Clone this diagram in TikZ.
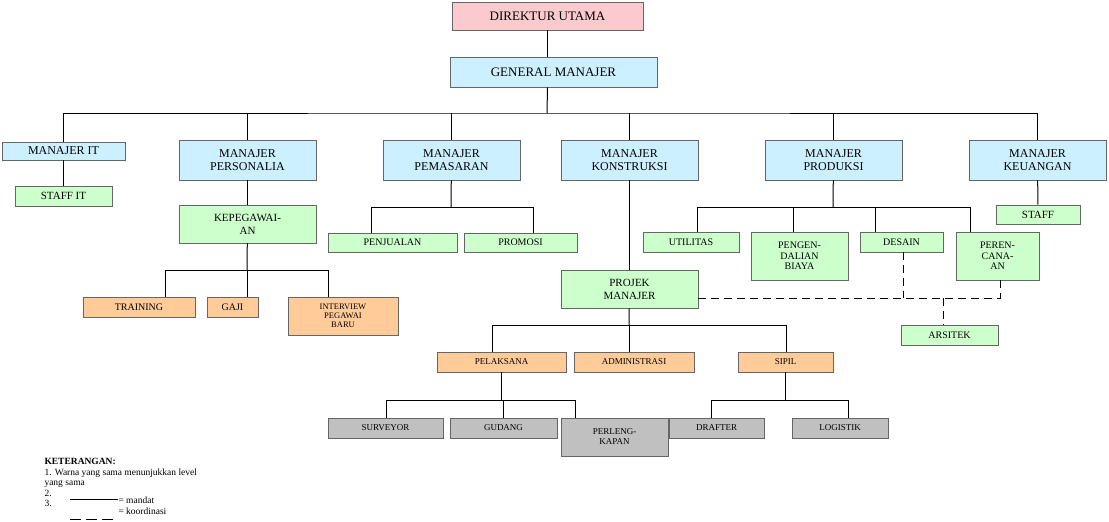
\documentclass[tikz,border=0pt]{standalone}
\usepackage{fontspec}
\setmainfont{Liberation Serif}
\definecolor{pinkbox}{HTML}{FBCACE}
\definecolor{bluebox}{HTML}{CCF0FF}
\definecolor{greenbox}{HTML}{CCFFCC}
\definecolor{orangebox}{HTML}{FFCC99}
\definecolor{greybox}{HTML}{C0C0C0}
\begin{document}
\begin{tikzpicture}[x = 1pt, y = -1pt, line width = 1pt,
                    box/.style = {draw = black!60, line width = 0.8pt, inner sep = 0pt, align = center,
                                  font = \fontsize{10}{10.5}\selectfont},
                    top/.style = {box, font = \fontsize{13}{14}\selectfont},
                    mgr/.style = {box, fill = bluebox, minimum width = 137pt, minimum height = 40pt,
                                  font = \fontsize{12}{13}\selectfont},
                    lvlg/.style = {box, fill = greenbox},
                    lvlo/.style = {box, fill = orangebox},
                    lvlr/.style = {box, fill = greybox},
                    koord/.style = {dashed, dash pattern = on 8pt off 5pt}]
  \useasboundingbox (0, 0) rectangle (1109, 522);
  \node [top, fill = pinkbox, minimum width = 191pt, minimum height = 28pt] (DU) at (547.5, 16) {DIREKTUR UTAMA};
  \node [top, fill = bluebox, minimum width = 207pt, minimum height = 30pt] (GM) at (553.5, 72) {GENERAL MANAJER};
  \node [mgr, minimum width = 123pt, minimum height = 18pt] (MIT) at (63.5, 151) {MANAJER IT};
  \node [mgr] (MPER) at (247.5, 160) {MANAJER\\PERSONALIA};
  \node [mgr] (MPEM) at (451.5, 160) {MANAJER\\PEMASARAN};
  \node [mgr] (MKON) at (629.5, 160) {MANAJER\\KONSTRUKSI};
  \node [mgr] (MPRO) at (833.5, 160) {MANAJER\\PRODUKSI};
  \node [mgr] (MKEU) at (1037.5, 160) {MANAJER\\KEUANGAN};
  \node [lvlg, minimum width = 97pt, minimum height = 20pt, font = \fontsize{11}{12}\selectfont] (SIT) at (63.5, 196) {STAFF IT};
  \node [lvlg, minimum width = 137pt, minimum height = 38pt, font = \fontsize{11}{13}\selectfont] (KEP) at (247.5, 224) {KEPEGAWAI-\\AN};
  \node [lvlg, minimum width = 129pt, minimum height = 19pt] (JUAL) at (392.5, 242.5) {PENJUALAN};
  \node [lvlg, minimum width = 113pt, minimum height = 19pt] (PROM) at (520.5, 242.5) {PROMOSI};
  \node [lvlg, minimum width = 96pt, minimum height = 20pt] (UTIL) at (691, 242) {UTILITAS};
  \node [lvlg, minimum width = 97pt, minimum height = 48pt] (BIAYA) at (799.5, 256) {PENGEN-\\DALIAN\\BIAYA};
  \node [lvlg, minimum width = 83pt, minimum height = 20pt] (DES) at (901.5, 242) {DESAIN};
  \node [lvlg, minimum width = 83pt, minimum height = 48pt] (RENC) at (997.5, 256) {PEREN-\\CANA-\\AN};
  \node [lvlg, minimum width = 84pt, minimum height = 19pt, font = \fontsize{11}{12}\selectfont] (STF) at (1038, 214.5) {STAFF};
  \node [lvlg, minimum width = 137pt, minimum height = 38pt, font = \fontsize{11}{13}\selectfont] (PM) at (629.5, 289) {PROJEK\\MANAJER};
  \node [lvlg, minimum width = 97pt, minimum height = 20pt] (ARS) at (949.5, 335) {ARSITEK};
  \node [lvlo, minimum width = 112pt, minimum height = 20pt] (TRN) at (139, 307) {TRAINING};
  \node [lvlo, minimum width = 51pt, minimum height = 20pt] (GAJI) at (232.5, 307) {GAJI};
  \node [lvlo, minimum width = 110pt, minimum height = 38pt, font = \fontsize{8.5}{9}\selectfont] (INT) at (343, 316) {INTERVIEW\\PEGAWAI\\BARU};
  \node [lvlo, minimum width = 129pt, minimum height = 20pt, font = \fontsize{9}{10}\selectfont] (PEL) at (501.5, 362) {PELAKSANA};
  \node [lvlo, minimum width = 120pt, minimum height = 20pt, font = \fontsize{9}{10}\selectfont] (ADM) at (634, 362) {ADMINISTRASI};
  \node [lvlo, minimum width = 95pt, minimum height = 20pt, font = \fontsize{9}{10}\selectfont] (SIP) at (785.5, 362) {SIPIL};
  \node [lvlr, minimum width = 115pt, minimum height = 20pt, font = \fontsize{9}{10}\selectfont] (SURV) at (385.5, 428) {SURVEYOR};
  \node [lvlr, minimum width = 107pt, minimum height = 20pt, font = \fontsize{9}{10}\selectfont] (GUD) at (503.5, 428) {GUDANG};
  \node [lvlr, minimum width = 107pt, minimum height = 38pt, font = \fontsize{9}{10}\selectfont] (PERL) at (614.5, 437) {PERLENG-\\KAPAN};
  \node [lvlr, minimum width = 95pt, minimum height = 20pt, font = \fontsize{9}{10}\selectfont] (DRAF) at (716.5, 428) {DRAFTER};
  \node [lvlr, minimum width = 96pt, minimum height = 20pt, font = \fontsize{9}{10}\selectfont] (LOG) at (840, 428) {LOGISTIK};
  \draw (DU) -- (DU |- GM.north);
  \draw (GM.south -| DU) -- (547, 113);
  \draw (MIT) |- (547, 113) -| (MKEU);
  \draw (MPER |- 0, 113) -- (MPER.north);
  \draw (MPEM |- 0, 113) -- (MPEM.north);
  \draw (MKON |- 0, 113) -- (MKON.north);
  \draw (MPRO |- 0, 113) -- (MPRO.north);
  \draw (MIT) -- (SIT);
  \draw (MPER) -- (KEP);
  \draw (KEP) -- (247, 270);
  \draw (165, 297) |- (328, 270) -- (328, 297);
  \draw (247, 270) -- (247, 297);
  \draw (MPEM) -- (451, 207);
  \draw (371, 233) |- (533, 207) -- (533, 233);
  \draw (MKON) -- (PM);
  \draw (MPRO) -- (833, 207);
  \draw (697, 232) |- (970, 207) -- (970, 232);
  \draw (793, 207) -- (793, 232);
  \draw (875, 207) -- (875, 232);
  \draw (MKEU) -- (STF);
  \draw (PM) -- (629, 325);
  \draw (492, 352) |- (786, 325) -- (786, 352);
  \draw (629, 325) -- (ADM.north -| 629, 0);
  \draw (PEL) -- (PEL |- 0, 400);
  \draw (386, 418) |- (575, 400) -- (575, 418);
  \draw (503, 400) -- (503, 418);
  \draw (SIP) -- (SIP |- 0, 400);
  \draw (711, 418) |- (848, 400) -- (848, 418);
  \draw [koord] (PM.east |- 0, 298) -- (1000, 298) -- (1000, 280);
  \draw [koord] (903, 252) -- (903, 298);
  \draw [koord] (943, 298) -- (ARS.north -| 943, 0);
  % keterangan
  \node [anchor = north west, inner sep = 0pt, align = left, font = \fontsize{9.5}{10.5}\selectfont] (KET) at (44, 458)
    {\textbf{KETERANGAN:}\\1. Warna yang sama menunjukkan level\\yang sama\\2.\\3.};
  \node [anchor = west, inner sep = 0pt, font = \fontsize{9.5}{10.5}\selectfont] (MAND) at (118, 500) {= mandat};
  \node [anchor = west, inner sep = 0pt, font = \fontsize{9.5}{10.5}\selectfont] (KOOR) at (118, 511) {= koordinasi};
  \draw [line width = 0.8pt] (70, 499) -- (MAND.west |- 0, 499);
  \draw [line width = 0.8pt, dash pattern = on 11pt off 5pt] (70, 519) -- (MAND.west |- 0, 519);
\end{tikzpicture}
\end{document}
